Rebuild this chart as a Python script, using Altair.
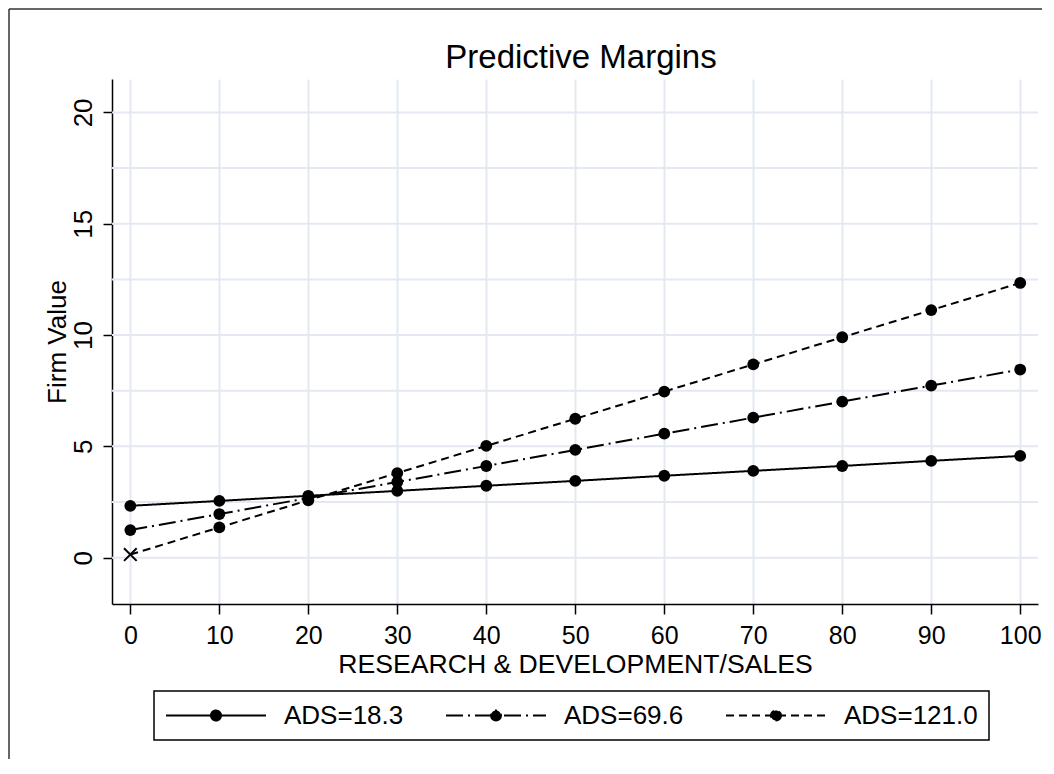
import altair as alt
import pandas as pd

# ---- data ----
x_vals = [0, 10, 20, 30, 40, 50, 60, 70, 80, 90, 100]
ads_18 = [2.33, 2.55, 2.78, 3.00, 3.23, 3.45, 3.68, 3.90, 4.12, 4.35, 4.57]
ads_69 = [1.24, 1.96, 2.68, 3.40, 4.12, 4.84, 5.57, 6.29, 7.01, 7.73, 8.45]
ads_121 = [0.14, 1.36, 2.58, 3.80, 5.02, 6.24, 7.46, 8.68, 9.90, 11.12, 12.34]
series_names = ["ADS=18.3", "ADS=69.6", "ADS=121.0"]
cross_series = "ADS=121.0"   # first point of this series is drawn as an "x"
cross_x = 0

x_ticks = [0, 10, 20, 30, 40, 50, 60, 70, 80, 90, 100]
y_ticks = [0, 5, 10, 15, 20]
y_grid = [0, 2.5, 5, 7.5, 10, 12.5, 15, 17.5, 20]

title_text = "Predictive Margins"
x_title = "RESEARCH & DEVELOPMENT/SALES"
y_title = "Firm Value"

# ---- tables ----
rows = []
for name, vals in zip(series_names, [ads_18, ads_69, ads_121]):
    for xv, yv in zip(x_vals, vals):
        rows.append({"x": xv, "y": yv, "series": name})
df = pd.DataFrame(rows)
is_cross = (df["series"] == cross_series) & (df["x"] == cross_x)
df_pts = df[~is_cross]
df_cross = df[is_cross]
df_grid = pd.DataFrame({"y": y_grid})
df_title = pd.DataFrame({"t": [title_text]})
df_one = pd.DataFrame({"a": [0]})

FONT = "Liberation Sans"
GRID = "#E4E9F1"
W, H = 926, 525

xscale = alt.Scale(domain=[-2.06, 102], nice=False, zero=False)
yscale = alt.Scale(domain=[-2.08, 21.5], nice=False, zero=False)

x_axis = alt.Axis(values=x_ticks, grid=True, gridColor=GRID, gridWidth=2,
                  tickSize=10, tickWidth=1.5, tickColor="black",
                  domainColor="black", domainWidth=1.5,
                  labelFontSize=25, labelFont=FONT, labelColor="black",
                  labelPadding=9, labelFlush=False,
                  title=x_title, titleFontSize=26.6, titleFont=FONT,
                  titleFontWeight="normal", titleColor="black", titlePadding=3)
y_axis = alt.Axis(values=y_ticks, grid=False,
                  tickSize=9, tickWidth=1.5, tickColor="black",
                  domainColor="black", domainWidth=1.5,
                  labelFontSize=26, labelFont=FONT, labelColor="black",
                  labelAngle=-90, labelAlign="center", labelBaseline="bottom",
                  labelPadding=7, labelFlush=False,
                  title=y_title, titleFontSize=26, titleFont=FONT,
                  titleFontWeight="normal", titleColor="black", titlePadding=0)

grid_layer = alt.Chart(df_grid).mark_rule(color=GRID, strokeWidth=2).encode(
    y=alt.Y("y:Q", scale=yscale, axis=y_axis)
)

dash_scale = alt.Scale(domain=series_names, range=[[1, 0], [17, 5, 2, 5], [8, 5]])

legend_symbol = "M-1,0H1M0.1,0A0.1,0.1,0,1,1,-0.1,0A0.1,0.1,0,1,1,0.1,0Z"

lines = alt.Chart(df).mark_line(color="black", strokeWidth=2).encode(
    x=alt.X("x:Q", scale=xscale, axis=x_axis),
    y=alt.Y("y:Q", scale=yscale, axis=y_axis),
    strokeDash=alt.StrokeDash(
        "series:N", scale=dash_scale,
        legend=alt.Legend(
            title=None, orient="none", legendX=42, legendY=612,
            direction="horizontal",
            symbolType=legend_symbol, symbolSize=10000, symbolStrokeWidth=2,
            symbolStrokeColor="black", symbolFillColor="black",
            clipHeight=27,
            labelFontSize=26, labelFont=FONT, labelColor="black", labelOffset=17,
            columnPadding=41, padding=11, strokeColor="black",
        ),
    ),
    detail="series:N",
)

points = alt.Chart(df_pts).mark_point(filled=True, shape="circle", size=140,
                                      color="black", opacity=1).encode(
    x=alt.X("x:Q", scale=xscale, axis=x_axis),
    y=alt.Y("y:Q", scale=yscale, axis=y_axis),
)

cross = alt.Chart(df_cross).mark_point(shape="M-1,-1L1,1M-1,1L1,-1", size=160,
                                       filled=False, color="black", strokeWidth=2,
                                       opacity=1).encode(
    x=alt.X("x:Q", scale=xscale, axis=x_axis),
    y=alt.Y("y:Q", scale=yscale, axis=y_axis),
)

# chart title, centred over the plot area
title_layer = alt.Chart(df_title).mark_text(
    font=FONT, fontSize=33, color="black", align="center", baseline="alphabetic"
).encode(text="t:N", x=alt.value(W / 2 + 6), y=alt.value(-11))

# outer frame lines of the graph region (decoration)
frame_left = alt.Chart(df_one).mark_rule(color="#333333", strokeWidth=1.5).encode(
    x=alt.value(-103), y=alt.value(-70), y2=alt.value(680)
)
frame_top = alt.Chart(df_one).mark_rule(color="#333333", strokeWidth=1.5).encode(
    x=alt.value(-103), x2=alt.value(930), y=alt.value(-70)
)

chart = alt.layer(grid_layer, lines, points, cross, title_layer, frame_left, frame_top).properties(
    width=W, height=H, padding=0,
).configure_view(stroke=None).configure_legend(strokeWidth=1.5)

chart.save("out.html", embed_options={"renderer": "svg", "actions": False})
